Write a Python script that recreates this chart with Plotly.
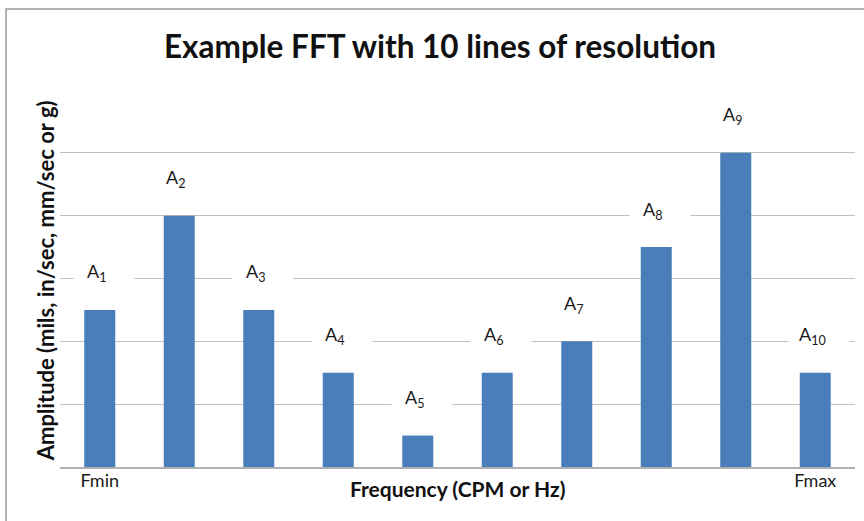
import plotly.graph_objects as go

# FFT lines and their amplitudes
line_index = [1, 2, 3, 4, 5, 6, 7, 8, 9, 10]
amplitudes = [2.5, 4, 2.5, 1.5, 0.5, 1.5, 2, 3.5, 5, 1.5]
line_names = ["A<sub>%d</sub>" % i for i in line_index]
tick_positions = [1, 10]
tick_labels = ["Fmin", "Fmax"]

BAR_COLOR = "#4a7ebb"
GRID_COLOR = "#c0c0c0"
FONT = "Lato"

fig = go.Figure()
fig.add_trace(go.Bar(
    x=line_index,
    y=amplitudes,
    width=0.39,
    marker=dict(color=BAR_COLOR, line=dict(width=0)),
    hoverinfo="x+y",
))

annotations = []
for xi, yi, name in zip(line_index, amplitudes, line_names):
    # white box that interrupts the gridlines behind each label
    annotations.append(dict(
        x=xi, y=yi, xref="x", yref="y",
        text="\u00a0", showarrow=False,
        width=58, height=24, bgcolor="white",
        xshift=4, yshift=36,
    ))
    annotations.append(dict(
        x=xi, y=yi, xref="x", yref="y",
        text=name, showarrow=False,
        font=dict(family=FONT, size=18, color="#1a1a1a"),
        xshift=-3, yshift=37,
    ))

# axis titles
annotations.append(dict(
    x=0.5, y=-0.056, xref="paper", yref="paper",
    xanchor="center", yanchor="middle", showarrow=False,
    text="<b>Frequency (CPM or Hz)</b>",
    font=dict(family=FONT, size=21, color="#111"),
))
annotations.append(dict(
    x=-0.019, y=0.495, xref="paper", yref="paper",
    xanchor="center", yanchor="middle", showarrow=False, textangle=-90,
    text="<b>Amplitude (mils, in/sec, mm/sec or g)</b>",
    font=dict(family=FONT, size=22, color="#111"),
))

fig.update_layout(
    width=864, height=521,
    margin=dict(l=60, r=9, t=90, b=54),
    paper_bgcolor="white", plot_bgcolor="white",
    showlegend=False,
    title=dict(
        text="<b>Example FFT with 10 lines of resolution</b>",
        x=440 / 864, xanchor="center",
        y=1 - 47 / 521, yanchor="middle",
        font=dict(family=FONT, size=31.5, color="#111"),
    ),
    xaxis=dict(
        range=[0.5, 10.5], tickmode="array",
        tickvals=tick_positions, ticktext=tick_labels,
        showgrid=False, zeroline=False,
        showline=True, linecolor="#b0b0b0", linewidth=1.5,
        ticks="", ticklabelstandoff=-3,
        tickfont=dict(family=FONT, size=18, color="#1a1a1a"),
    ),
    yaxis=dict(
        range=[0, 6], dtick=1, showticklabels=False,
        showgrid=True, gridcolor=GRID_COLOR, gridwidth=1.3,
        zeroline=False, showline=False, ticks="",
    ),
    annotations=annotations,
    shapes=[dict(
        type="rect", xref="paper", yref="paper",
        x0=-0.0679, x1=1.03, y0=-0.16, y1=1.2149,
        line=dict(color="#9a9a9a", width=1.5),
    )],
)

fig.write_html("out.html")
